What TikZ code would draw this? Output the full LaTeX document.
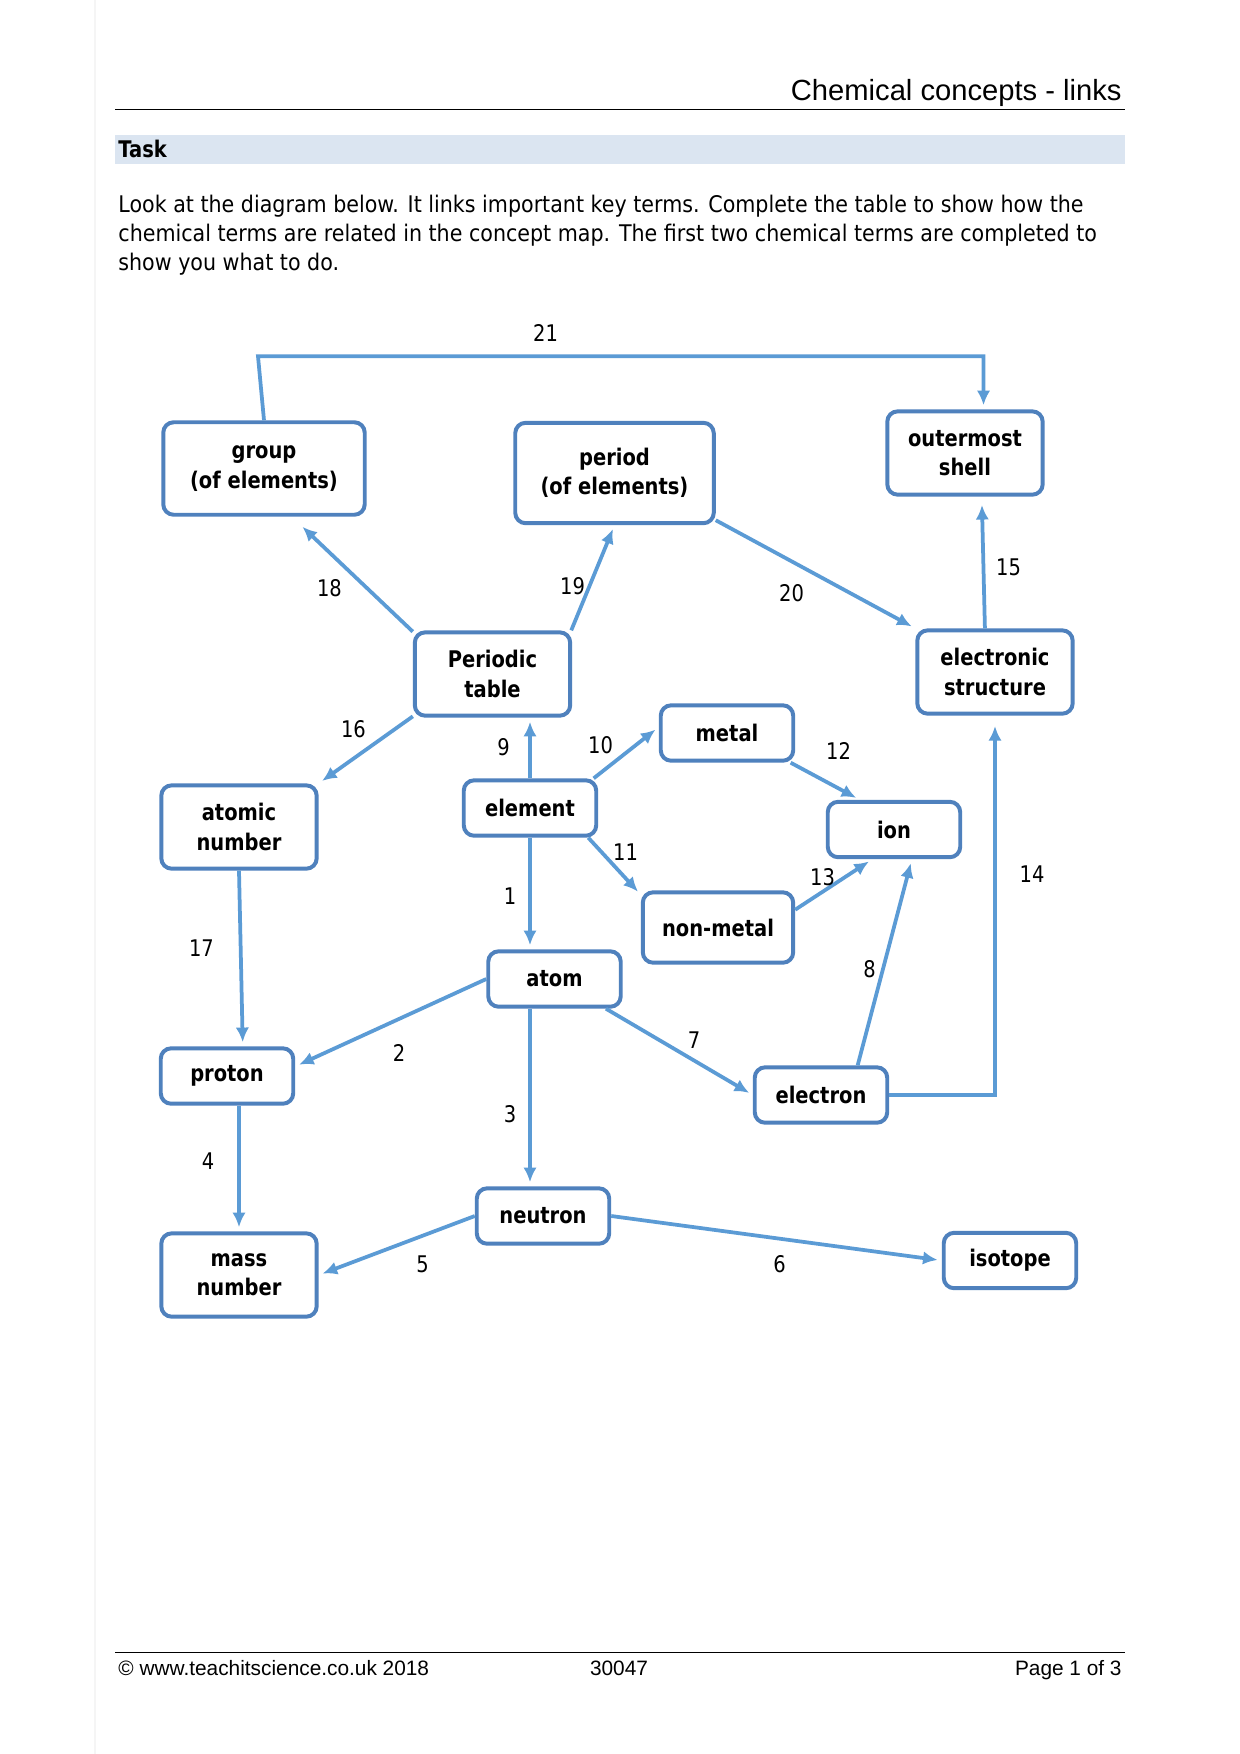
\documentclass[tikz,border=0pt]{standalone}
\usepackage{fontspec}
\setmainfont{DejaVu Sans}[FakeStretch=0.85]
\newfontfamily\bodyfont{DejaVu Sans}[FakeStretch=0.9]
\newfontfamily\arialfont{Liberation Sans}
\usetikzlibrary{arrows.meta,calc}
\definecolor{boxblue}{RGB}{79,129,189}
\definecolor{linkblue}{RGB}{91,155,213}
\definecolor{taskgray}{RGB}{219,229,241}

\begin{document}
\begin{tikzpicture}[x=0.48pt,y=-0.48pt,
  keybox/.style={draw=boxblue,line width=1.9pt,rounded corners=5pt,fill=white,
    align=center,font=\fontsize{11}{14}\selectfont\bfseries,
    minimum width=63.6pt,minimum height=26.6pt,inner sep=0pt},
  widebox/.style={keybox,minimum width=74.6pt,minimum height=40pt},
  link/.style={linkblue,line width=1.8pt,-{Latex[length=7pt,width=6.4pt]},shorten >=2pt},
  num/.style={font=\fontsize{11}{14}\selectfont},
  body/.style={inner sep=0pt,font=\bodyfont\fontsize{11}{14}\selectfont},
  footer/.style={inner sep=0pt,font=\arialfont\fontsize{10}{12}\selectfont}
]
\useasboundingbox (0,0) rectangle (1240,1754);
\fill[white] (0,0) rectangle (1240,1754);
\draw[gray!8,line width=0.6pt] (95,0) -- (95,1754);

% the heading
\node[anchor=base east,inner sep=0pt,font=\arialfont\fontsize{14}{17}\selectfont] (title) at (1122,100.5) {Chemical concepts - links};
\draw[line width=0.8pt] (115,109.6) -- (1125,109.6);
\fill[taskgray] (115,135) rectangle (1125,164);
\node[anchor=west,inner sep=0pt,font=\fontsize{11}{14}\selectfont\bfseries] (task) at (118,149) {Task};
\node[anchor=base west,body] (line1) at (118,212.4) {Look at the diagram below. It links important key terms. Complete the table to show how the};
\node[anchor=base west,body] (line2) at (118,241.5) {chemical terms are related in the concept map. The first two chemical terms are completed to};
\node[anchor=base west,body] (line3) at (118,270.6) {show you what to do.};

% the key terms
\node[keybox,minimum width=96.7pt,minimum height=44.4pt] (group) at (264,468.5) {group\\(of elements)};
\node[keybox,minimum width=95.3pt,minimum height=48.2pt] (period) at (614.5,473) {period\\(of elements)};
\node[widebox] (shell) at (965,453) {outermost\\shell};
\node[widebox] (ptable) at (492.5,674) {Periodic\\table};
\node[widebox] (estruct) at (995,672) {electronic\\structure};
\node[keybox] (metal) at (727,733) {metal};
\node[widebox] (anum) at (239,827) {atomic\\number};
\node[keybox] (element) at (530,808) {element};
\node[keybox] (ion) at (894,829.5) {ion};
\node[keybox,minimum width=72.2pt,minimum height=33.8pt] (nonmetal) at (718,927.5) {non-metal};
\node[keybox] (atom) at (554.5,979) {atom};
\node[keybox] (proton) at (227,1076) {proton};
\node[keybox] (electron) at (821,1095) {electron};
\node[keybox] (neutron) at (543,1216) {neutron};
\node[widebox] (mnum) at (239,1275) {mass\\number};
\node[keybox] (isotope) at (1010,1260.5) {isotope};

% the links
\draw[link] (element.south) -- (element.south |- atom.north);
\draw[link] (atom.west) -- (proton.8);
\draw[link] (element.south |- atom.south) -- (element.south |- neutron.north);
\draw[link] (mnum.north |- proton.south) -- (mnum.north);
\draw[link] (neutron.west) -- (mnum.east);
\draw[link] (neutron.east) -- (isotope.west);
\draw[link] (atom.-30) -- (electron.west);
\draw[link] (electron.39) -- (ion.-59);
\draw[link] (element.north) -- (element.north |- ptable.south);
\draw[link] (element.25) -- (metal.175);
\draw[link] (element.-27) -- (nonmetal.157);
\draw[link] (metal.-25) -- (ion.139);
\draw[link] (nonmetal.13) -- (ion.-126);
\draw[link,shorten >=5pt] (electron.east) -| (estruct.south);
\draw[link,shorten >=4pt] (estruct.103) -- (shell.-69);
\draw[link] (ptable.-152) -- (anum.north east);
\draw[link] (anum.south) -- (proton.62);
\draw[link,shorten >=7pt] (ptable.152) -- (group.-60);
\draw[link] (ptable.29) -- (period.south);
\draw[link] (period.-25) -- (estruct.north west);
\coordinate (bend) at ([shift={(-6,-64)}]group.north);
\draw[link] (group.north) -- (bend) -| (shell.67);

% the link numbers
\node[num] (n1) at (510,896) {1};
\node[num] (n2) at (399,1052.5) {2};
\node[num] (n3) at (510,1114) {3};
\node[num] (n4) at (208,1161) {4};
\node[num] (n5) at (422.6,1264.5) {5};
\node[num] (n6) at (779.5,1264.5) {6};
\node[num] (n7) at (694,1040.5) {7};
\node[num] (n8) at (869.5,969) {8};
\node[num] (n9) at (503.5,747) {9};
\node[num] (n10) at (600.5,745) {10};
\node[num] (n11) at (625.5,852) {11};
\node[num] (n12) at (838.5,750.5) {12};
\node[num] (n13) at (822.5,877.5) {13};
\node[num] (n14) at (1032,874) {14};
\node[num] (n15) at (1008.5,567) {15};
\node[num] (n16) at (353.5,729.5) {16};
\node[num] (n17) at (201.5,948) {17};
\node[num] (n18) at (329.5,588) {18};
\node[num] (n19) at (572.5,586.5) {19};
\node[num] (n20) at (791.5,593) {20};
\node[num] (n21) at (545.6,333) {21};

% the footer
\draw[line width=0.8pt] (115,1652.6) -- (1125,1652.6);
\node[anchor=base west,footer] (copy) at (118,1675.5) {© www.teachitscience.co.uk 2018};
\node[anchor=base,footer] (code) at (619,1675.5) {30047};
\node[anchor=base east,footer] (page) at (1122,1675.5) {Page 1 of 3};
\end{tikzpicture}
\end{document}
